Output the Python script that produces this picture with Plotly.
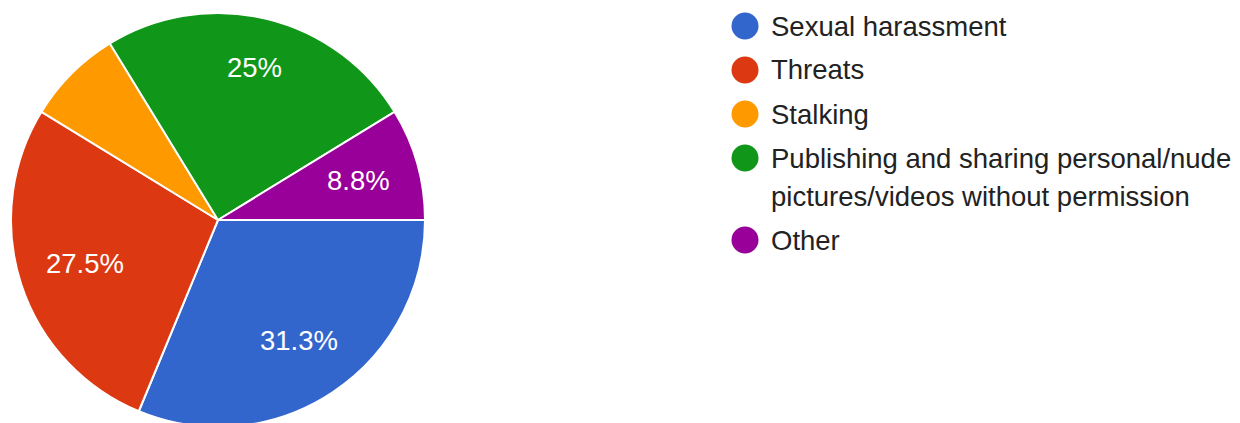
import math
import plotly.graph_objects as go
from decimal import Decimal, ROUND_HALF_UP

# Survey responses: type of online abuse experienced (80 respondents)
categories = [
    "Sexual harassment",
    "Threats",
    "Stalking",
    "Publishing and sharing personal/nude\npictures/videos without permission",
    "Other",
]
counts = [25, 22, 6, 20, 7]
colors = ["#3366cc", "#dc3912", "#ff9900", "#109618", "#990099"]

W, H = 1240, 431          # figure size (bottom edge of the pie runs off the page)
MIN_LABEL_SHARE = 8.0     # slices smaller than this (in %) get no label
FONT = "Arial, 'Liberation Sans', sans-serif"

# radial position of each slice's percentage label, as a fraction of the radius
label_radius = [0.70, 0.675, 0.70, 0.76, 0.705]

total = sum(counts)


def pct_label(v):
    p = Decimal(v * 100) / Decimal(total)
    s = str(p.quantize(Decimal("0.1"), rounding=ROUND_HALF_UP))
    if s.endswith(".0"):
        s = s[:-2]
    return s + "%"


# pie geometry in pixels
cx, cy, r = 218, 220, 207
start_deg = 0.0  # first slice starts at 3 o'clock, slices run clockwise

fig = go.Figure(
    go.Pie(
        labels=[c.replace("\n", " ") for c in categories],
        values=counts,
        textinfo="none",
        marker=dict(colors=colors, line=dict(color="white", width=2)),
        sort=False,
        direction="clockwise",
        rotation=90,
        showlegend=False,
        hoverinfo="label+percent",
        domain=dict(
            x=[(cx - r) / W, (cx + r) / W],
            y=[(H - (cy + r)) / H, (H - (cy - r)) / H],
        ),
    )
)

annotations, shapes = [], []

# percentage labels on the slices
acc = 0
for v, frac in zip(counts, label_radius):
    mid = start_deg + (acc + v / 2) / total * 360
    acc += v
    if v * 100 / total < MIN_LABEL_SHARE:
        continue
    px = cx + frac * r * math.cos(math.radians(mid))
    py = cy + frac * r * math.sin(math.radians(mid))
    annotations.append(dict(
        text=pct_label(v), xref="paper", yref="paper",
        x=px / W, y=1 - py / H, xanchor="center", yanchor="middle",
        showarrow=False, font=dict(family=FONT, size=27.5, color="white"),
    ))

# custom legend: round swatches with labels
leg_cx, leg_d, text_x = 745, 27, 769
row_y, row_gap, line_gap = 26, 44, 38
y = row_y
for name, col in zip(categories, colors):
    shapes.append(dict(
        type="circle", xref="paper", yref="paper",
        x0=(leg_cx - leg_d / 2) / W, x1=(leg_cx + leg_d / 2) / W,
        y0=1 - (y + leg_d / 2) / H, y1=1 - (y - leg_d / 2) / H,
        fillcolor=col, line=dict(width=0),
    ))
    lines = name.split("\n")
    for i, line in enumerate(lines):
        annotations.append(dict(
            text=line, xref="paper", yref="paper",
            x=text_x / W, y=1 - (y + i * line_gap) / H,
            xanchor="left", yanchor="middle", showarrow=False,
            font=dict(family=FONT, size=27.5, color="#222222"),
        ))
    y += row_gap + (len(lines) - 1) * line_gap

fig.update_layout(
    width=W, height=H,
    margin=dict(l=0, r=0, t=0, b=0),
    paper_bgcolor="white", plot_bgcolor="white",
    shapes=shapes, annotations=annotations,
)

fig.write_html(
    "out.html",
    post_script="document.documentElement.style.overflow='hidden';document.body.style.overflow='hidden';",
)
